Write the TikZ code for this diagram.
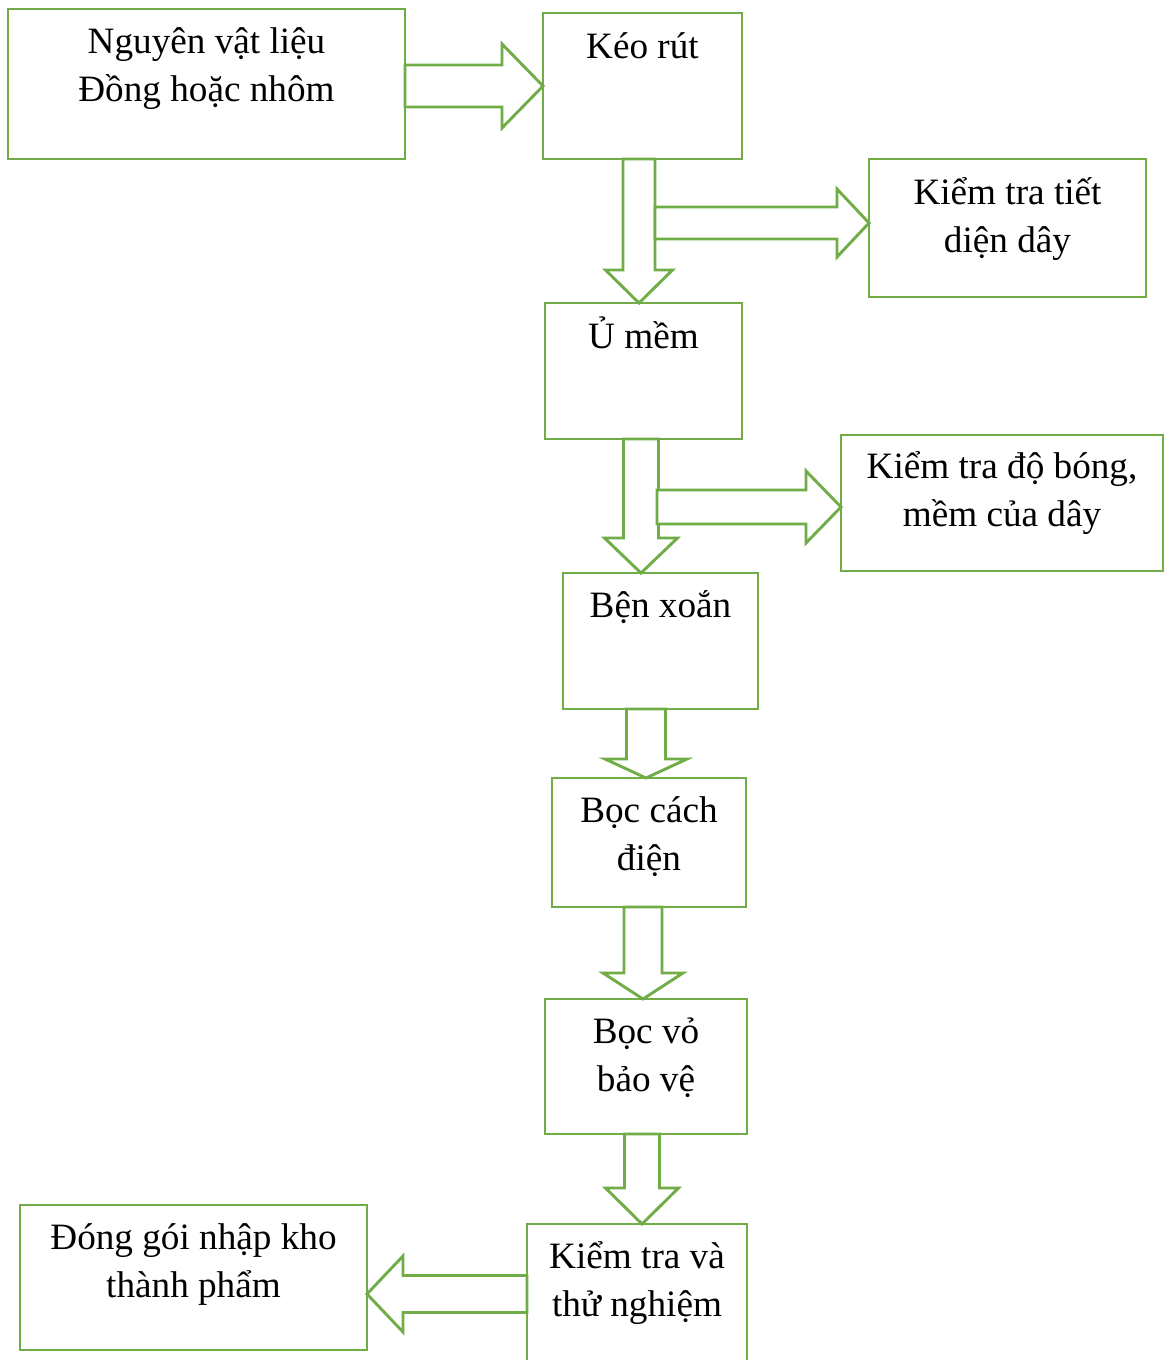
\documentclass[tikz,border=0pt]{standalone}
\usepackage{fontspec}
\setmainfont{Liberation Serif}
\usetikzlibrary{calc}
\definecolor{grn}{HTML}{70AD47}
\tikzset{
  box/.style={draw=grn, line width=2.9pt, inner sep=0pt, outer sep=0pt, fill=white},
  txt/.style={inner sep=0pt, outer sep=0pt, font=\fontsize{37.2}{48}\selectfont, anchor=base},
  blk/.style={draw=grn, line width=2.9pt, fill=white, line join=miter}
}
\newcommand\DownBlk[5]{\draw[blk] ($(#1)+(-#3,0)$) -- ($(#2)+(-#3,-#5)$) -- ($(#2)+(-#4,-#5)$) -- (#2) -- ($(#2)+(#4,-#5)$) -- ($(#2)+(#3,-#5)$) -- ($(#1)+(#3,0)$) -- cycle;}
\newcommand\RightBlk[5]{\draw[blk] ($(#1)+(0,-#3)$) -- ($(#2)+(-#5,-#3)$) -- ($(#2)+(-#5,-#4)$) -- (#2) -- ($(#2)+(-#5,#4)$) -- ($(#2)+(-#5,#3)$) -- ($(#1)+(0,#3)$) -- cycle;}
\newcommand\LeftBlk[5]{\draw[blk] ($(#1)+(0,-#3)$) -- ($(#2)+(#5,-#3)$) -- ($(#2)+(#5,-#4)$) -- (#2) -- ($(#2)+(#5,#4)$) -- ($(#2)+(#5,#3)$) -- ($(#1)+(0,#3)$) -- cycle;}
\newcommand\TL[2]{\begin{tabular}[t]{@{}c@{}}#1\\#2\end{tabular}}
\begin{document}
\begin{tikzpicture}[x=1pt,y=-1pt]
\useasboundingbox[fill=white] (0,0) rectangle (1165,1360);
% boxes
\node[box, anchor=north west, minimum width=397pt, minimum height=150pt] (nvl) at (8,9) {};
\node[box, anchor=north west, minimum width=199pt, minimum height=146pt] (kr) at (543,13) {};
\node[box, anchor=north west, minimum width=277pt, minimum height=138pt] (kt1) at (869,159) {};
\node[box, anchor=north west, minimum width=197pt, minimum height=136pt] (um) at (545,303) {};
\node[box, anchor=north west, minimum width=322pt, minimum height=136pt] (kt2) at (841,435) {};
\node[box, anchor=north west, minimum width=195pt, minimum height=136pt] (bx) at (563,573) {};
\node[box, anchor=north west, minimum width=194pt, minimum height=129pt] (bcd) at (552,778) {};
\node[box, anchor=north west, minimum width=202pt, minimum height=135pt] (bv) at (545,999) {};
\node[box, anchor=north west, minimum width=220pt, minimum height=150pt] (kttn) at (527,1224) {};
\node[box, anchor=north west, minimum width=347pt, minimum height=145pt] (dg) at (20,1205) {};
% texts
\node[txt] (tnvl) at ($(nvl.north)+(0,44)$) {\TL{Nguyên vật liệu}{Đồng hoặc nhôm}};
\node[txt] (tkr) at ($(kr.north)+(0,45)$) {Kéo rút};
\node[txt] (tkt1) at ($(kt1.north)+(0,45)$) {\TL{Kiểm tra tiết}{diện dây}};
\node[txt] (tum) at ($(um.north)+(0,45)$) {Ủ mềm};
\node[txt] (tkt2) at ($(kt2.north)+(0,43)$) {\TL{Kiểm tra độ bóng,}{mềm của dây}};
\node[txt] (tbx) at ($(bx.north)+(0,44)$) {Bện xoắn};
\node[txt] (tbcd) at ($(bcd.north)+(0,44)$) {\TL{Bọc cách}{điện}};
\node[txt] (tbv) at ($(bv.north)+(0,44)$) {\TL{Bọc vỏ}{bảo vệ}};
\node[txt] (tkttn) at ($(kttn.north)+(0,44)$) {\TL{Kiểm tra và}{thử nghiệm}};
\node[txt] (tdg) at ($(dg.north)+(0,44)$) {\TL{Đóng gói nhập kho}{thành phẩm}};
% arrow coordinates
\coordinate (t1) at (kr.west);
\coordinate (s1) at (nvl.east |- t1);
\coordinate (t2) at ($(um.north)+(-4.5,0)$);
\coordinate (s2) at (t2 |- kr.south);
\coordinate (t3) at ($(kt1.west)+(0,-5)$);
\coordinate (s3) at ($(t2 |- t3)+(16,0)$);
\coordinate (t4) at ($(bx.north)+(-19.5,0)$);
\coordinate (s4) at (t4 |- um.south);
\coordinate (t5) at ($(kt2.west)+(0,4)$);
\coordinate (s5) at ($(t4 |- t5)+(16,0)$);
\coordinate (t6) at ($(bcd.north)+(-3,0)$);
\coordinate (s6) at (t6 |- bx.south);
\coordinate (t7) at ($(bv.north)+(-3,0)$);
\coordinate (s7) at (t7 |- bcd.south);
\coordinate (t8) at ($(kttn.north)+(5,0)$);
\coordinate (s8) at (t8 |- bv.south);
\coordinate (t9) at ($(dg.east)+(0,16.5)$);
\coordinate (s9) at (kttn.west |- t9);
% arrows
\RightBlk{s1}{t1}{21}{42}{41}
\DownBlk{s2}{t2}{16}{33.5}{33}
\RightBlk{s3}{t3}{16}{34}{32}
\DownBlk{s4}{t4}{17.5}{36.5}{35}
\RightBlk{s5}{t5}{17}{36}{35}
\DownBlk{s6}{t6}{19.5}{41}{19}
\DownBlk{s7}{t7}{19}{40}{26}
\DownBlk{s8}{t8}{17.5}{36.5}{36}
\LeftBlk{s9}{t9}{18.5}{38}{36}
\end{tikzpicture}
\end{document}
